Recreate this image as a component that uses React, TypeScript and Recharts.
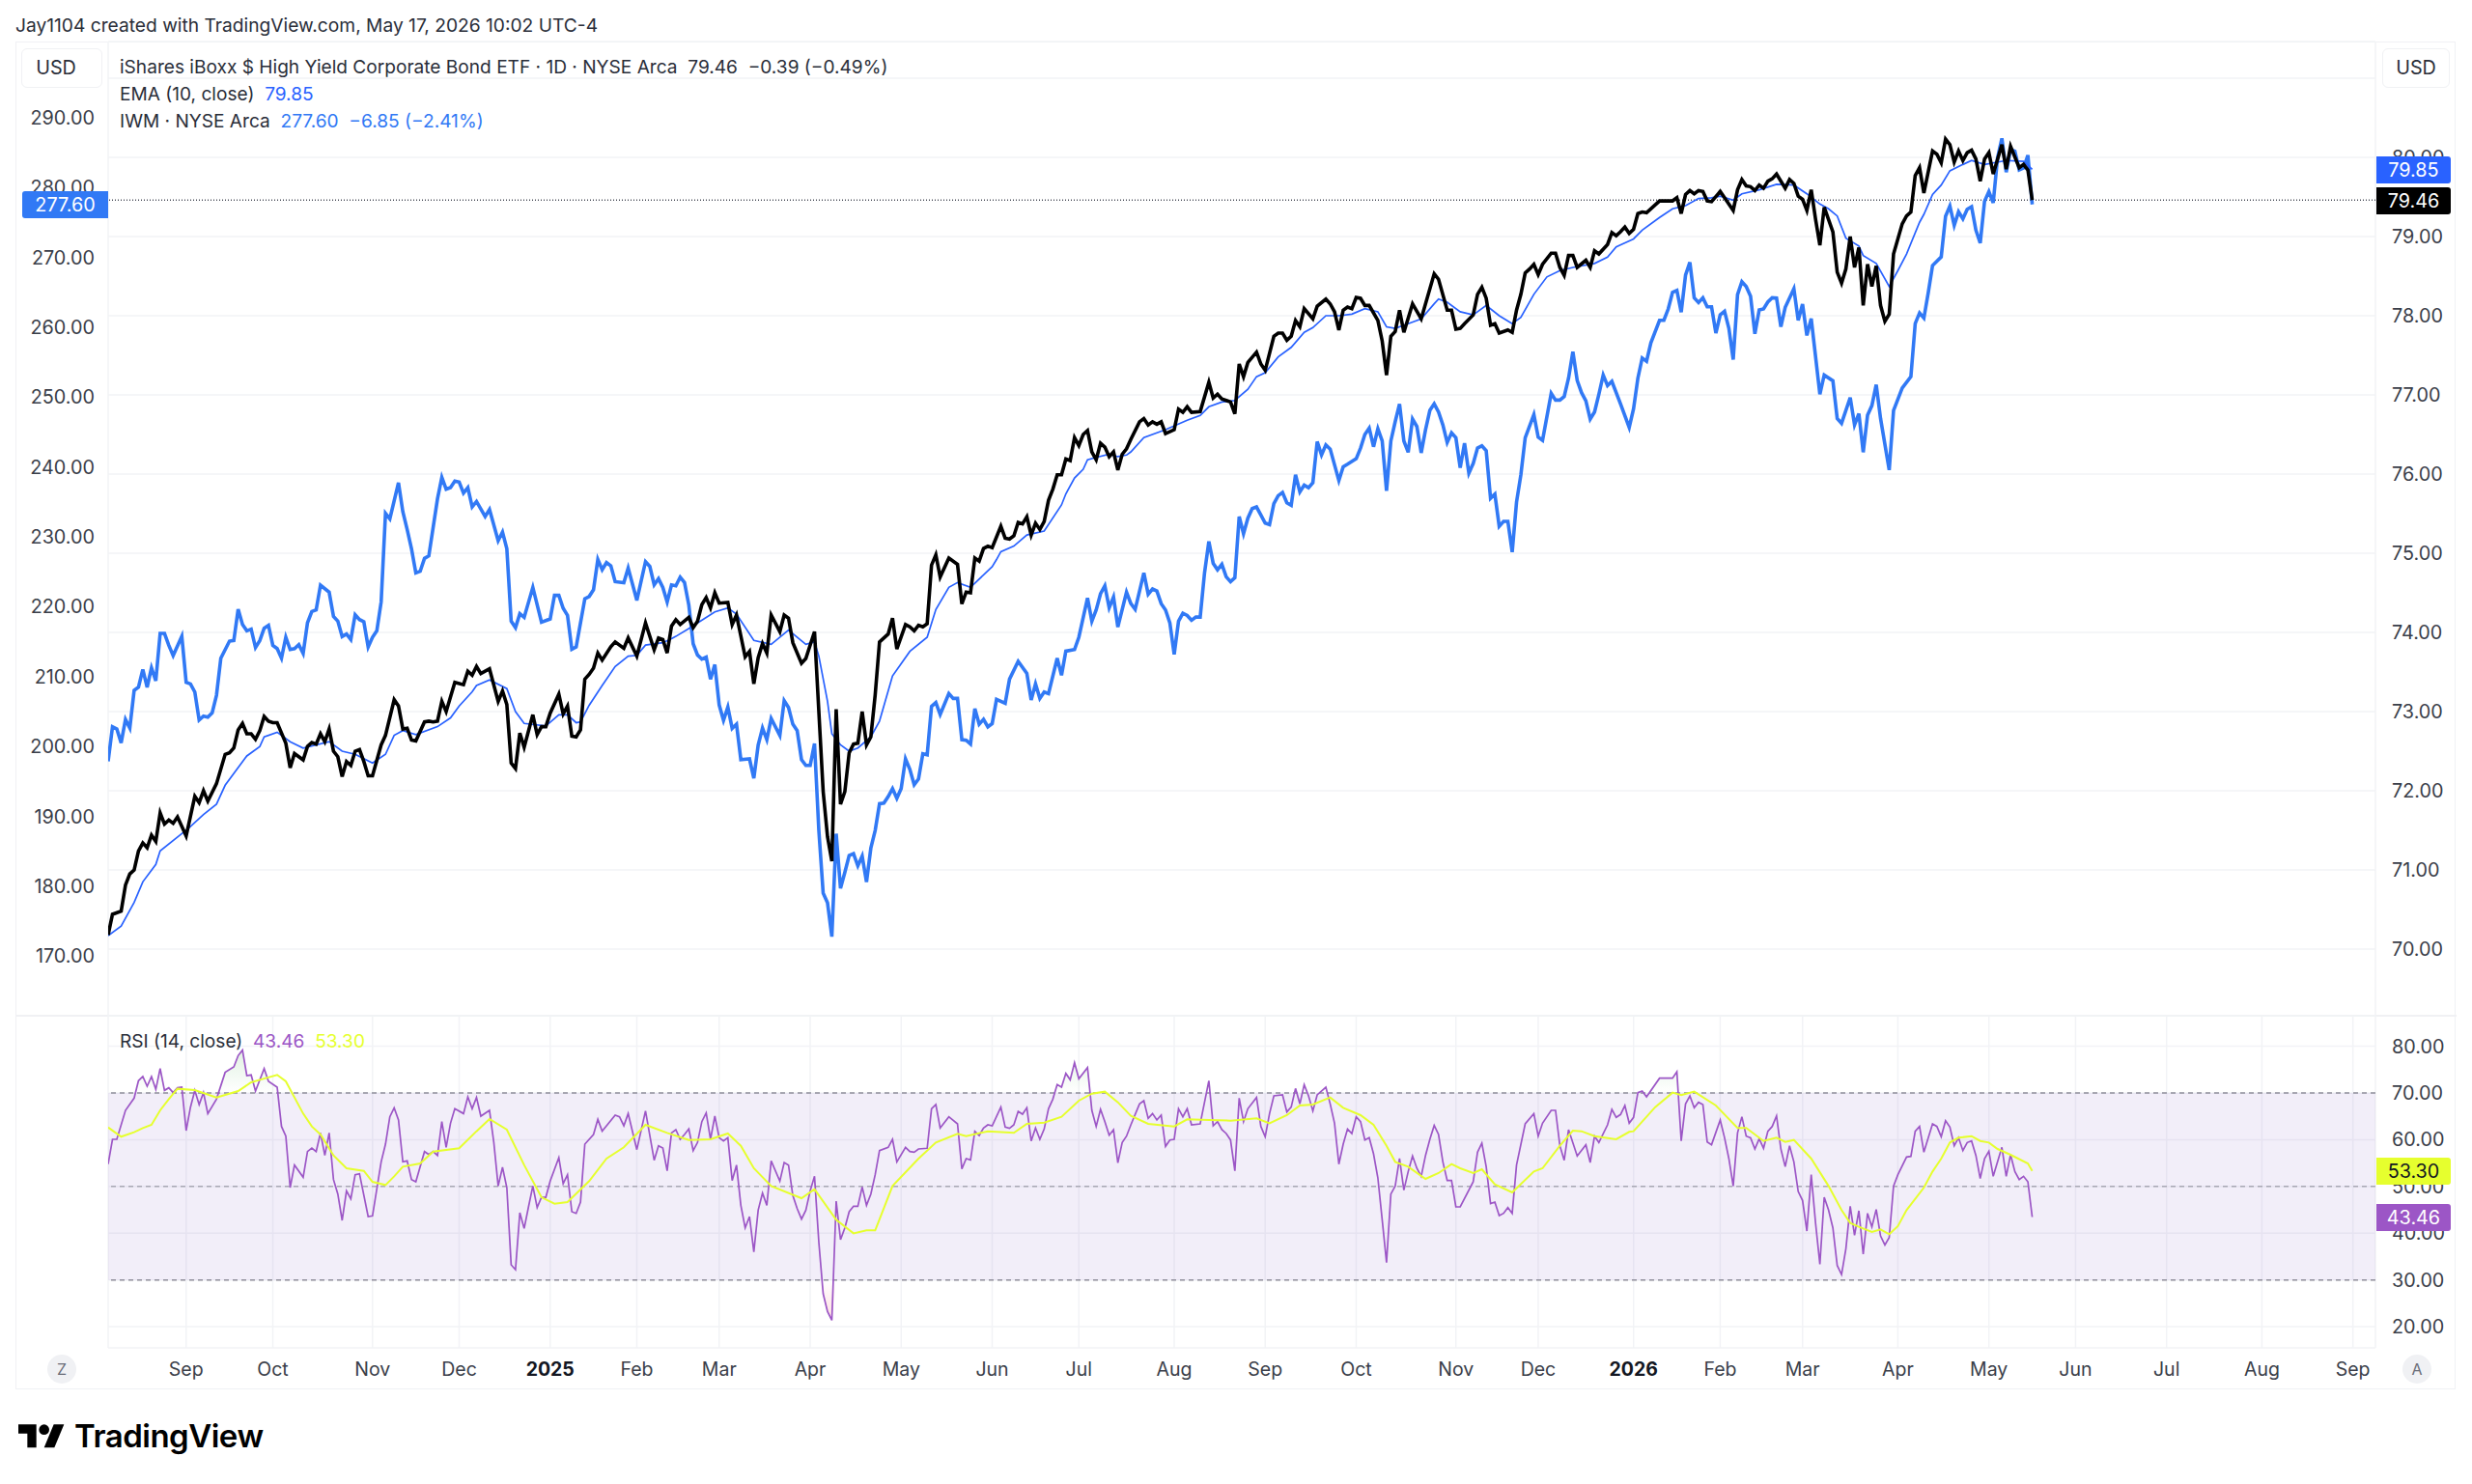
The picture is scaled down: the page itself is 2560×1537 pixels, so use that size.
import {
  Area,
  CartesianGrid,
  ComposedChart,
  Line,
  LineChart,
  ReferenceArea,
  ReferenceLine,
  XAxis,
  YAxis,
} from "recharts";

// [trading-day number, value], day 0 is the first bar on screen
const hygClose = [
  [0,70.18],[1,70.44],[3,70.48],[4,70.81],[5,70.95],[6,71.00],[7,71.24],[8,71.34],[9,71.28],[10,71.44],[11,71.36],[12,71.72],[13,71.58],[14,71.63],[15,71.59],[16,71.67],[18,71.43],[20,71.93],[21,71.85],[22,72.00],[23,71.87],[25,72.09],[27,72.46],[28,72.48],[29,72.54],[30,72.77],[31,72.85],[32,72.72],[33,72.72],[34,72.65],[35,72.76],[36,72.94],[37,72.88],[38,72.86],[39,72.86],[41,72.60],[42,72.29],[43,72.47],[45,72.39],[46,72.56],[47,72.61],[48,72.59],[49,72.72],[50,72.62],[51,72.78],[52,72.50],[53,72.43],[54,72.18],[55,72.37],[56,72.32],[57,72.50],[58,72.52],[59,72.37],[60,72.19],[61,72.19],[63,72.58],[64,72.70],[66,73.15],[67,73.07],[68,72.78],[69,72.79],[70,72.64],[71,72.63],[73,72.87],[74,72.88],[75,72.87],[76,72.88],[77,73.13],[78,73.00],[80,73.37],[82,73.34],[83,73.51],[84,73.46],[85,73.57],[86,73.48],[88,73.54],[90,73.13],[91,73.26],[92,73.09],[93,72.35],[94,72.28],[95,72.73],[96,72.55],[98,72.96],[99,72.71],[100,72.81],[101,72.81],[102,72.98],[104,73.22],[105,72.97],[106,73.07],[107,72.69],[108,72.68],[109,72.77],
  [110,73.41],[111,73.47],[112,73.55],[113,73.74],[114,73.65],[116,73.82],[117,73.88],[119,73.80],[120,73.93],[122,73.70],[124,74.12],[126,73.78],[127,73.93],[128,73.91],[129,73.74],[130,74.08],[131,74.16],[132,74.10],[134,74.19],[135,74.06],[136,74.14],
  [137,74.35],[138,74.44],[139,74.31],[140,74.50],[141,74.37],[143,74.38],[144,74.10],[145,74.22],[147,73.69],[148,73.76],[149,73.35],[150,73.68],[151,73.86],[152,73.74],[153,74.22],[155,74.01],[156,74.22],[157,74.18],[158,73.87],[160,73.61],[161,73.67],[163,74.01],[165,71.99],[166,71.42],[167,71.11],[168,73.03],[169,71.83],[170,71.99],[171,72.48],[172,72.59],[173,72.60],[174,73.00],[175,72.58],[176,72.68],[177,73.21],[178,73.88],[180,73.98],[181,74.18],[182,73.79],[184,74.10],[185,74.07],[186,74.02],[187,74.09],[188,74.07],[189,74.11],[190,74.85],[191,74.98],[192,74.70],[194,74.94],[196,74.86],[197,74.36],[198,74.51],[199,74.50],[200,74.94],[201,74.90],
  [202,75.06],[203,75.09],[204,75.07],[206,75.34],[207,75.19],[208,75.18],[209,75.22],[210,75.39],[211,75.37],[212,75.46],[213,75.23],[214,75.38],[215,75.30],[216,75.40],[217,75.67],[218,75.81],[219,75.99],[220,75.99],[221,76.19],[222,76.17],[223,76.46],[224,76.36],[225,76.50],[226,76.55],[227,76.28],[228,76.18],[229,76.39],[230,76.34],[231,76.22],[232,76.28],[233,76.05],[234,76.25],[235,76.32],
  [236,76.44],[238,76.66],[239,76.70],[240,76.62],[241,76.66],[242,76.63],[243,76.66],[244,76.51],[246,76.56],[247,76.82],[248,76.78],[249,76.85],[250,76.78],[252,76.79],[254,77.16],[255,76.96],[256,77.01],[257,76.95],[259,76.91],[260,76.76],[261,77.39],[262,77.23],[263,77.41],[265,77.54],[266,77.39],[267,77.31],[269,77.74],[270,77.78],[271,77.78],[272,77.69],[273,77.74],[274,77.94],[275,77.86],[276,78.09],[278,77.96],[279,78.12],[281,78.21],[282,78.15],[283,78.05],[284,77.82],[285,78.07],[286,78.11],[287,78.09],[288,78.23],[289,78.22],[290,78.13],[291,78.13],[293,77.94],[294,77.68],[295,77.25],[296,77.74],[297,77.80],[298,78.07],[299,77.79],[301,78.15],[303,77.96],[306,78.53],[307,78.46],[309,78.07],[310,78.07],[311,77.83],[312,77.84],[313,77.90],[315,78.01],[316,78.27],[317,78.36],[318,78.22],[319,77.88],[320,77.90],[321,77.78],[323,77.82],[324,77.79],[325,78.07],[326,78.27],[327,78.54],[328,78.59],[329,78.65],[330,78.52],[331,78.65],[333,78.79],[334,78.79],[335,78.61],[336,78.51],[337,78.76],[338,78.76],[339,78.61],[341,78.70],[342,78.61],
  [343,78.82],[344,78.78],[346,78.90],[347,79.05],[348,79.01],[349,79.06],[350,79.12],[351,79.04],[352,79.09],[353,79.29],[354,79.31],[355,79.30],[358,79.45],[361,79.45],[362,79.49],[363,79.29],[364,79.53],[365,79.58],[366,79.54],[367,79.58],[368,79.57],[369,79.45],[370,79.44],[372,79.57],[373,79.49],[375,79.33],[376,79.59],[377,79.72],[378,79.64],[379,79.63],[380,79.58],[381,79.65],[382,79.61],[383,79.70],[384,79.73],[385,79.79],[387,79.61],[388,79.72],[389,79.67],[390,79.51],[391,79.47],[392,79.33],[393,79.59],[394,79.22],[395,78.89],[396,79.37],[398,79.06],[399,78.55],[400,78.41],[401,78.59],[402,79.00],[403,78.61],[404,78.86],[405,78.13],
  [406,78.65],[407,78.37],[408,78.63],[409,78.13],[410,77.93],[411,78.02],[412,78.78],[414,79.16],[415,79.26],[416,79.31],[417,79.77],[418,79.87],[419,79.55],[421,80.08],[422,80.04],[423,79.93],[424,80.23],[425,80.16],[426,79.94],[427,80.08],[428,79.96],[429,80.06],[430,80.09],[431,79.98],[432,79.70],[433,79.98],[434,80.06],[435,79.79],[437,80.16],[438,79.85],[439,80.14],[441,79.87],[442,79.91],[443,79.84],[444,79.46],
];

const emaClose = [
  [0,70.17],[3,70.29],[6,70.59],[8,70.85],[11,71.07],[12,71.24],[17,71.46],[18,71.50],[22,71.70],[25,71.83],[27,72.07],[32,72.44],[35,72.56],[36,72.68],[39,72.74],[42,72.62],[45,72.54],[51,72.62],[54,72.50],[57,72.46],[61,72.35],[64,72.46],[66,72.70],[68,72.76],[71,72.71],[76,72.81],[79,72.92],[81,73.07],[84,73.25],[85,73.33],[88,73.40],[92,73.29],[94,73.00],[96,72.85],[101,72.82],[104,72.96],[106,72.96],[108,72.86],
  [109,72.87],[111,73.08],[114,73.33],[117,73.57],[120,73.70],[122,73.71],[124,73.84],[128,73.87],[130,73.92],
  [131,73.95],[134,74.05],[140,74.26],[143,74.31],[145,74.23],[149,73.90],[153,73.85],[157,74.03],[161,73.85],[163,73.88],[164,73.70],[166,73.13],[167,72.72],[169,72.58],[171,72.50],[173,72.54],[176,72.68],[178,72.88],[181,73.45],[185,73.76],[189,73.94],[191,74.29],[194,74.57],[196,74.63],[199,74.57],[204,74.83],
  [205,74.92],[206,75.02],[209,75.09],[212,75.23],[216,75.28],[220,75.61],[221,75.75],[223,75.95],[225,76.06],[226,76.18],[228,76.21],[231,76.25],[233,76.22],[235,76.24],
  [236,76.28],[239,76.46],[244,76.56],[249,76.68],[252,76.74],[254,76.85],[257,76.91],[260,76.93],[263,77.07],[265,77.23],[267,77.28],[270,77.48],[273,77.60],[276,77.79],[278,77.85],[281,78.00],[284,78.00],[287,78.02],[290,78.09],[293,78.05],[295,77.86],[297,77.84],[300,77.90],[303,77.96],[306,78.15],[307,78.21],[309,78.17],[312,78.05],[315,78.01],[318,78.13],[321,78.00],[324,77.90],[326,77.98],[329,78.27],[332,78.49],[335,78.57],[338,78.61],
  [343,78.66],[346,78.74],[348,78.87],[352,78.97],[354,79.08],[358,79.24],[361,79.35],[364,79.39],[367,79.48],[370,79.49],[372,79.51],[375,79.46],[377,79.54],[381,79.59],[385,79.66],[389,79.65],[392,79.54],[395,79.41],[397,79.35],
  [399,79.26],[401,78.98],[404,78.88],[405,78.76],[408,78.66],[411,78.37],[413,78.57],[415,78.78],[418,79.18],[419,79.28],[421,79.53],[423,79.65],[425,79.83],[428,79.91],[430,79.96],[433,79.91],[438,79.96],[442,79.95],[444,79.85],
];

const iwmClose = [
  [0,197.89],[1,202.82],[2,202.50],[3,200.52],[4,203.88],[5,202.64],[6,208.03],[7,208.49],[8,211.03],[9,208.49],[10,211.26],[11,209.41],[12,216.19],[13,216.19],[14,214.48],[15,213.01],[17,215.77],[18,209.18],[19,208.95],[20,207.80],[21,203.79],[22,204.34],[23,204.21],[24,204.81],[25,207.34],[26,212.64],[28,215.08],[29,215.17],[30,219.64],[31,217.48],[32,216.56],[33,216.79],[34,214.16],[35,215.17],[36,216.93],[37,217.34],[38,214.48],[39,214.02],[40,212.64],[41,215.64],[42,213.88],[43,214.02],[44,214.58],[45,213.33],[46,217.71],[47,219.32],[48,219.55],[49,223.10],[51,222.09],[52,218.63],[53,217.94],[54,215.73],[55,216.10],[56,215.31],[57,218.86],[58,218.17],[59,217.85],[60,214.25],[61,215.64],[62,216.56],[63,220.70],[64,233.38],[65,232.59],[67,237.76],[68,233.61],[69,231.07],[70,228.31],[71,224.85],[72,225.08],[73,226.93],[74,227.29],[76,235.45],[77,238.54],[78,236.83],[79,237.06],[80,237.99],[81,237.85],[82,236.28],[83,237.06],[84,234.30],[85,235.08],[87,232.92],[88,233.93],[90,229.46],[91,230.70],[92,228.31],[93,217.94],[94,217.02],[95,219.00],[96,218.49],[98,222.78],[100,217.80],[102,218.26],[103,221.63],[104,221.63],[105,219.78],[106,218.77],[107,213.93],[108,214.25],
  [110,221.16],[111,221.48],[112,222.45],[113,226.78],[114,225.31],[115,226.32],[116,225.86],[117,223.60],[119,223.46],[120,225.54],[122,220.93],[124,226.46],[125,225.77],[126,223.14],[127,224.02],[128,222.77],[129,220.70],[130,223.14],
  [131,223.01],[132,224.25],[133,223.47],[134,220.24],[135,214.71],[136,213.10],[137,212.50],[138,212.78],[139,209.64],[140,211.72],[141,205.96],[142,203.75],[143,205.64],[144,202.59],[145,203.19],[146,198.12],[148,198.22],[149,195.45],[150,200.20],[151,202.64],[152,200.98],[153,204.02],[155,201.58],[156,206.56],[157,205.59],[158,203.19],[159,202.27],[160,198.12],[161,197.29],[162,197.29],[163,200.43],[164,187.99],[165,179.00],[166,177.62],[167,172.78],[168,187.52],[169,179.69],[170,181.99],[171,184.39],[172,184.67],[173,182.92],[174,184.30],[175,180.61],[176,185.45],[177,187.99],[178,191.81],[179,191.90],[180,192.82],[181,193.98],[182,192.59],[183,193.98],[184,198.22],[185,196.74],[186,194.53],[187,195.36],[188,198.95],[189,198.81],[190,205.73],[191,206.28],[192,204.58],[194,207.57],[195,206.88],[196,206.88],[197,200.98],[198,200.89],[199,200.34],[200,205.40],[201,203.19],[202,203.88],[203,202.82],[204,203.28],[205,206.74],[207,206.19],[208,209.64],[210,212.18],[212,210.47],[213,206.65],[214,208.95],[215,206.88],[216,207.80],[217,207.57],[219,212.64],[220,210.20],[221,213.65],[223,213.88],[224,215.64],[226,221.26],[227,217.94],[228,219.55],[229,221.86],[230,223.01],[231,219.87],[232,221.40],[233,217.11],[235,222.09],[236,220.47],[237,219.64],[239,224.85],[240,221.80],[241,222.54],[242,222.25],
  [243,220.46],[244,219.54],[245,217.70],[246,213.18],[247,217.93],[248,219.08],[249,218.76],[250,218.07],[251,218.53],[252,218.53],[253,224.84],[254,229.36],[255,226.22],[256,225.30],[257,226.09],[258,224.29],[259,223.60],[260,224.15],[261,232.91],[262,230.46],[263,232.68],[264,234.06],[265,234.29],[266,233.14],[267,231.98],[268,231.75],[269,234.75],[270,235.90],[271,236.36],[272,234.89],[273,234.52],[274,238.90],[275,236.45],[276,237.42],[277,237.05],[278,237.75],[279,243.64],[280,241.75],[281,243.18],[282,242.58],[284,238.07],[285,240.05],[286,240.42],[288,241.20],[289,242.72],[290,244.66],[291,245.58],[292,242.91],[293,245.49],[294,243.74],[295,236.59],[296,243.74],[297,246.50],[298,249.04],[299,243.74],[300,242.12],[301,246.87],[302,245.81],[303,242.03],[304,245.35],[305,248.11],[306,249.04],[307,247.88],[308,246.04],[309,243.51],[310,244.89],[311,244.20],[312,239.91],[313,243.41],[314,239.13],[315,240.51],[316,242.72],[317,243.04],[318,242.35],[319,235.53],[320,236.13],[321,231.52],[322,232.22],[323,232.22],[324,227.84],[325,234.98],[326,238.90],[327,244.20],[329,247.51],[330,244.29],[331,243.83],[333,250.56],[334,249.59],[335,249.59],[336,250.10],[337,252.72],[338,256.50],[339,252.40],[340,250.65],[341,249.50],[342,246.87],
  [343,247.88],[344,250.42],[345,253.18],[346,251.66],[347,252.26],[349,249.03],[351,245.67],[352,248.34],[353,252.72],[354,255.62],[355,255.16],[356,257.79],[358,261.01],[359,261.01],[360,262.63],[361,265.02],[362,265.30],[363,262.17],[364,267.47],[365,269.31],[366,264.24],[367,263.55],[368,264.24],[369,262.95],[370,262.95],[371,259.17],[372,261.80],[373,262.31],[374,259.86],[375,255.39],[376,264.70],[377,266.54],[378,265.85],[379,264.47],[380,259.08],[381,262.49],[382,262.63],[383,263.64],[384,264.24],[385,264.20],[386,260.09],[387,262.86],[389,265.53],[390,261.01],[391,263.32],[392,258.85],[393,261.25],[395,250.42],[396,253.18],[398,252.35],[399,246.96],[400,246.27],[402,249.95],[403,246.04],[404,247.65],
  [405,242.12],[406,247.42],[407,248.80],[408,251.80],[409,246.96],[411,239.58],[412,248.11],[414,251.33],[416,252.95],[417,260.55],[418,262.07],[419,261.33],[420,264.93],[421,268.85],[423,270.09],[424,275.90],[425,277.37],[426,274.61],[427,276.54],[428,275.53],[429,276.91],[430,277.28],[431,273.92],[432,272.07],[433,278.06],[434,279.45],[435,277.83],[436,284.28],[437,287.05],[438,282.21],[439,285.44],[440,285.21],[441,282.53],[442,282.81],[443,284.65],[444,277.60],
];

const rsiValues = [
  [0,54.78],[1,60.09],[2,60.09],[4,66.28],[6,68.90],[7,72.62],[8,73.51],[9,71.45],[10,73.51],[11,70.76],[12,75.23],[13,70.55],[14,71.10],[15,70.07],[16,71.10],[17,71.24],[18,61.94],[19,66.97],[20,70.55],[21,67.52],[22,70.07],[23,65.59],[25,68.69],[27,74.41],[29,75.58],[30,77.99],[31,79.16],[32,73.72],[33,73.86],[34,70.41],[36,75.23],[37,72.48],[39,71.24],[40,62.84],[41,60.77],[42,49.76],[43,54.58],[45,51.96],[46,57.47],[47,58.23],[48,57.47],[49,61.46],[50,56.64],[51,61.46],[52,51.48],[53,48.38],[54,42.74],[55,49.07],[56,47.35],[57,52.51],[58,52.72],[60,43.56],[61,43.70],[63,55.27],[64,59.05],[65,64.91],[66,66.83],[67,64.22],[68,55.27],[69,55.47],[70,51.48],[71,51.00],[73,57.47],[74,56.85],[75,57.47],[76,56.64],[77,63.87],[78,58.37],[79,63.53],[80,66.63],[82,65.59],[83,69.17],[84,66.63],[85,69.04],[86,65.04],[88,66.28],[89,59.40],[90,50.10],[91,54.10],[92,49.76],[93,33.24],[94,32.20],[95,44.39],[96,41.01],[97,45.63],[98,50.10],[99,45.49],[100,47.69],[101,47.69],[102,51.14],[104,56.16],[105,50.59],[106,52.51],[107,44.60],[108,44.25],[109,46.66],[110,59.05],[112,61.12],[113,64.35],[114,61.81],[117,65.25],[118,64.91],[119,62.98],[120,65.59],[122,57.88],[124,66.14],[126,55.61],[127,58.71],[128,58.23],[129,53.34],[130,61.46],[131,62.15],[132,60.09],[133,61.12],[134,62.29],[135,57.68],[136,59.40],[137,63.87],[138,65.73],[139,60.09],[140,65.04],[141,60.43],[142,59.74],[143,60.43],[144,51.27],[145,54.58],[146,45.97],[147,41.15],[148,43.56],[149,35.99],[150,44.94],[151,48.59],[152,45.97],[153,55.47],[155,51.14],[156,55.13],[157,54.58],[158,48.04],[159,45.28],[160,43.01],[161,44.94],[162,49.07],[163,52.17],[164,38.05],[165,27.04],[166,23.25],[167,21.39],[168,46.87],[169,38.61],[170,41.15],[171,44.60],[172,45.77],[173,45.77],[174,49.90],[175,45.97],[176,48.38],[177,52.51],[178,57.68],[180,58.37],[181,60.09],[182,55.27],[184,58.37],[185,57.47],[186,57.33],[187,58.02],[189,58.16],[190,66.63],[191,67.52],[192,62.50],[194,64.91],[196,63.39],[197,53.75],[198,55.96],
  [199,55.68],[200,61.81],[201,60.91],[202,62.50],[203,63.18],[204,62.98],[206,66.97],[207,62.70],[208,62.43],[209,63.18],[210,66.08],[211,65.46],[212,66.83],[213,59.74],[214,62.50],[215,60.09],[216,62.29],[217,66.63],[218,68.69],[219,71.79],[220,71.24],[221,74.20],[222,72.82],[223,76.47],[224,73.03],[226,75.44],[227,66.28],[228,62.84],[229,66.49],[230,63.87],[231,60.98],[232,62.15],[233,55.06],[234,59.40],[235,60.77],[236,63.18],[238,67.66],[239,68.35],[240,64.56],[241,65.59],[242,64.22],[243,65.25],[244,58.57],[245,59.95],[246,60.09],[247,66.63],[248,64.91],[249,66.63],[250,63.18],[252,63.39],[254,72.62],[255,62.98],[256,63.87],[257,62.15],[258,61.33],[259,59.95],[260,53.34],[261,68.90],[262,63.87],[263,66.63],[265,69.04],[266,62.84],[267,60.64],[268,65.59],[269,69.38],[271,69.59],[272,65.94],[273,66.97],[274,70.96],[275,67.66],[276,71.79],[277,69.38],[278,66.14],[279,69.59],[281,71.24],[282,67.66],[283,63.53],[284,54.78],[285,59.05],[286,62.29],[287,61.33],[288,64.91],[289,63.87],[290,59.95],[291,60.43],[292,56.99],[293,51.82],[294,42.87],[295,33.72],[296,48.38],[297,50.10],[298,55.96],[299,49.21],[300,53.20],[301,56.51],[302,53.89],[303,52.17],[304,56.64],[305,60.09],[306,63.05],[307,61.12],[308,55.27],[309,51.27],[310,51.27],[311,45.63],[312,45.63],[315,51.00],[316,57.33],[317,59.26],[318,54.23],[319,46.32],[320,46.66],[321,43.77],[322,44.25],[323,45.49],[324,44.25],[325,54.58],[327,63.39],[329,65.59],[330,60.77],[331,63.53],[333,66.28],[334,66.28],[335,58.71],[336,55.61],[337,62.15],[339,56.51],[341,58.92],[342,55.13],[343,60.77],[344,59.40],[346,63.18],[347,66.49],[348,64.77],[349,65.39],[350,67.31],[351,63.53],[352,64.77],[353,70.07],[354,70.41],[355,69.17],[358,73.17],[361,73.17],[362,74.54],[363,59.74],[364,67.66],[365,69.38],[366,66.83],[367,68.00],[368,67.52],[369,59.53],[370,58.92],[372,64.22],[373,60.43],[374,55.96],[375,50.10],[376,61.46],[377,64.91],[378,60.77],[379,60.43],[380,58.02],[381,60.22],[382,58.16],[383,61.81],[384,62.84],[385,65.11],[386,58.02],[387,54.23],[388,58.71],[389,55.27],[390,48.93],[391,47.00],[392,40.46],[393,52.51],[394,42.19],[395,33.37],[396,47.69],[397,44.94],[398,41.15],[399,33.10],[400,31.17],[401,36.68],[402,45.77],[403,39.57],[404,44.80],[405,35.51],[406,44.25],[407,41.36],[408,45.08],[409,39.43],[410,37.50],[411,39.09],[412,50.10],[413,52.51],[415,56.30],[416,56.44],
  [417,61.81],[418,62.84],[419,57.33],[421,63.39],[422,62.84],[423,60.64],[424,64.08],[425,62.70],[426,58.71],[427,60.43],[428,57.68],[429,59.40],[430,59.74],[431,56.64],[432,51.69],[433,55.96],[434,57.54],[435,52.17],[437,58.37],[438,52.17],[439,56.78],[440,53.20],[441,51.48],[442,52.17],[443,51.00],[444,43.46],
];

const rsiAverage = [
  [0,62.63],[3,60.64],[6,61.60],[8,62.50],[10,63.18],[12,66.28],[14,68.69],[16,70.90],[20,70.62],[25,69.04],[30,70.41],[33,72.27],[35,72.82],[39,73.86],[41,72.48],[45,65.59],[47,62.84],[49,61.12],[52,56.64],[55,53.89],[59,53.34],[61,51.00],[64,50.31],[66,52.17],[68,54.23],[72,54.92],[75,57.47],[81,58.16],[85,61.81],[88,64.42],[92,62.15],[96,54.58],[100,47.69],[103,46.32],[106,46.66],[111,51.14],[115,55.96],[119,58.37],[124,63.18],[129,61.46],[134,59.95],[139,60.09],[143,61.33],[146,58.71],[149,53.89],[153,50.10],[160,47.49],[163,49.41],[168,42.87],[172,39.98],[175,40.60],[177,40.60],[181,50.10],[187,55.96],[191,59.40],[196,61.26],[198,60.77],
  [203,61.81],[209,61.46],[212,63.39],[216,63.67],[220,64.91],[224,68.35],[227,69.86],[230,70.28],[233,68.00],[236,65.11],[240,63.39],[246,62.84],[249,64.35],[254,64.22],[259,64.08],[265,64.56],[268,63.53],[272,65.25],[275,67.31],[278,67.52],[282,69.04],[285,66.83],[289,65.25],[292,63.18],[295,58.71],[297,55.27],[300,54.23],[304,51.62],[307,52.86],[310,54.78],[312,53.89],[315,52.86],[317,53.68],[320,50.45],[324,48.73],[329,53.20],[331,53.89],[335,58.71],[338,61.94],[340,61.81],[343,60.77],[348,60.09],[351,61.67],[352,61.81],[357,66.97],[361,70.07],[363,69.52],[366,70.28],[371,67.31],[376,62.50],[378,62.50],[382,59.74],[385,60.43],[387,59.53],[389,59.95],[393,55.96],[397,50.10],
  [400,44.94],[402,42.19],[404,41.36],[407,40.26],[409,40.81],[411,39.78],[413,41.50],[415,44.94],[419,49.76],[421,53.20],[423,55.96],[425,59.40],[427,60.43],[430,60.77],[432,59.74],[434,59.40],[436,58.02],[439,56.78],[443,54.92],[444,53.30],
];

const monthBars = [18, 38, 61, 81, 102, 122, 141, 162, 183, 204, 224, 246, 267, 288, 311, 330, 352, 372, 391, 413, 434, 454, 475, 497, 518];
const monthLabels = ["Sep", "Oct", "Nov", "Dec", "2025", "Feb", "Mar", "Apr", "May", "Jun", "Jul", "Aug", "Sep", "Oct", "Nov", "Dec", "2026", "Feb", "Mar", "Apr", "May", "Jun", "Jul", "Aug", "Sep"];

const iwmTicks = [170, 180, 190, 200, 210, 220, 230, 240, 250, 260, 270, 280, 290];
const hygTicks = [70, 71, 72, 73, 74, 75, 76, 77, 78, 79, 80, 81];
const rsiTicks = [20, 30, 40, 50, 60, 70, 80];

const FONT = "Inter, 'Liberation Sans', sans-serif";
const GRID = "#f2f3f6";
const TEXT = "#2a2e39";
const BAR_MAX = 523.2;

const rows = (pts: number[][]) => pts.map(([bar, v]) => ({ bar, v }));
const rsiHigh = rsiValues.map(([bar, v]) => ({ bar, hi: Math.max(v, 70) }));
const rsiLow = rsiValues.map(([bar, v]) => ({ bar, lo: Math.min(v, 30) }));

const axisText = { fontSize: 19.8, fill: "#3a3e49", fontFamily: FONT };

function MonthTick({ x, y, payload }: any) {
  const label = monthLabels[monthBars.indexOf(payload.value)];
  const bold = label === "2025" || label === "2026";
  return (
    <text x={x} y={y + 14} textAnchor="middle" dominantBaseline="central" fontSize={19.5} fontFamily={FONT} fontWeight={bold ? 700 : 400} fill={bold ? "#131722" : "#3a3e49"}>
      {label}
    </text>
  );
}

function Tag({ top, bg, color, text }: { top: number; bg: string; color: string; text: string }) {
  return (
    <div style={{ position: "absolute", left: 2461, top, width: 77, height: 28, background: bg, color, fontSize: 19.8, lineHeight: "28px", textAlign: "center", borderRadius: "0 3px 3px 0" }}>
      {text}
    </div>
  );
}

function Legend({ top, children }: { top: number; children: any }) {
  return <div style={{ position: "absolute", left: 124, top, fontSize: 19.1, lineHeight: "24px", color: TEXT, whiteSpace: "pre" }}>{children}</div>;
}

function Round({ left, text }: { left: number; text: string }) {
  return (
    <div style={{ position: "absolute", left, top: 1403, width: 30, height: 30, borderRadius: 15, background: "#f0f1f4", color: "#6a6d78", fontSize: 16, lineHeight: "30px", textAlign: "center" }}>
      {text}
    </div>
  );
}

export default function App() {
  return (
    <div style={{ position: "absolute", left: 0, top: 0, width: 2560, height: 1537, background: "#fff", fontFamily: FONT, overflow: "hidden" }}>
      <div style={{ position: "absolute", left: 16, top: 14, fontSize: 19.2, lineHeight: "24px", color: TEXT }}>
        Jay1104 created with TradingView.com, May 17, 2026 10:02 UTC-4
      </div>
      <div style={{ position: "absolute", left: 16, top: 43, width: 2527, height: 1396, border: "1.5px solid #f0f1f4", boxSizing: "border-box" }} />
      <div style={{ position: "absolute", left: 16, top: 1051, width: 2528, height: 2, background: "#f0f1f4" }} />

      <div style={{ position: "absolute", left: 0, top: 0 }}>
        <LineChart width={2560} height={1052} margin={{ top: 43, right: 16, bottom: 0, left: 16 }}>
          <CartesianGrid stroke={GRID} strokeWidth={1.5} yAxisId="hyg" ticks={monthBars} />
          <XAxis type="number" dataKey="bar" domain={[0, BAR_MAX]} ticks={monthBars} interval={0} height={0} tick={false} axisLine={false} tickLine={false} allowDataOverflow />
          <YAxis yAxisId="iwm" orientation="left" width={96} domain={[161.46, 300.92]} ticks={iwmTicks} interval={0} allowDataOverflow axisLine={false} tickLine={false} tickMargin={8} tick={axisText} tickFormatter={(v: number) => v.toFixed(2)} />
          <YAxis yAxisId="hyg" orientation="right" width={84} domain={[69.159, 81.463]} ticks={hygTicks} interval={0} allowDataOverflow axisLine={false} tickLine={false} tickMargin={11} tick={axisText} tickFormatter={(v: number) => (v === 81 ? "" : v.toFixed(2))} />
          <ReferenceLine yAxisId="hyg" y={79.46} stroke="#4a4e59" strokeWidth={1.5} strokeDasharray="1 2" />
          <Line yAxisId="iwm" data={rows(iwmClose)} dataKey="v" type="linear" stroke="#3179f5" strokeWidth={3.6} dot={false} isAnimationActive={false} />
          <Line yAxisId="hyg" data={rows(emaClose)} dataKey="v" type="linear" stroke="#2962ff" strokeWidth={1.7} dot={false} isAnimationActive={false} />
          <Line yAxisId="hyg" data={rows(hygClose)} dataKey="v" type="linear" stroke="#000000" strokeWidth={3.6} dot={false} isAnimationActive={false} />
        </LineChart>
      </div>

      <div style={{ position: "absolute", left: 0, top: 1052 }}>
        <ComposedChart width={2560} height={388} margin={{ top: 0, right: 16, bottom: 0, left: 112 }}>
          <defs>
            <linearGradient id="rsiUp" x1="0" y1="0" x2="0" y2="1">
              <stop offset="0%" stopColor="#4caf50" stopOpacity={0.28} />
              <stop offset="100%" stopColor="#4caf50" stopOpacity={0} />
            </linearGradient>
            <linearGradient id="rsiDown" x1="0" y1="0" x2="0" y2="1">
              <stop offset="0%" stopColor="#f23645" stopOpacity={0} />
              <stop offset="100%" stopColor="#f23645" stopOpacity={0.28} />
            </linearGradient>
          </defs>
          <CartesianGrid stroke={GRID} strokeWidth={1.5} />
          <XAxis type="number" dataKey="bar" domain={[0, BAR_MAX]} ticks={monthBars} interval={0} height={44} axisLine={false} tickLine={false} tick={<MonthTick />} allowDataOverflow />
          <YAxis orientation="right" width={84} domain={[15.48, 86.52]} ticks={rsiTicks} interval={0} allowDataOverflow axisLine={false} tickLine={false} tickMargin={11} tick={axisText} tickFormatter={(v: number) => v.toFixed(2)} />
          <ReferenceArea y1={30} y2={70} fill="#7e57c2" fillOpacity={0.1} stroke="none" />
          <ReferenceLine y={70} stroke="#8f8e9a" strokeWidth={1.5} strokeDasharray="5 4" />
          <ReferenceLine y={50} stroke="#a9a8b4" strokeWidth={1.5} strokeDasharray="5 4" />
          <ReferenceLine y={30} stroke="#8f8e9a" strokeWidth={1.5} strokeDasharray="5 4" />
          <Area data={rsiHigh} dataKey="hi" baseValue={70} type="linear" stroke="none" fill="url(#rsiUp)" dot={false} activeDot={false} isAnimationActive={false} />
          <Area data={rsiLow} dataKey="lo" baseValue={30} type="linear" stroke="none" fill="url(#rsiDown)" dot={false} activeDot={false} isAnimationActive={false} />
          <Line data={rows(rsiValues)} dataKey="v" type="linear" stroke="#9c56c6" strokeWidth={1.7} dot={false} isAnimationActive={false} />
          <Line data={rows(rsiAverage)} dataKey="v" type="linear" stroke="#e6ff2e" strokeWidth={2} dot={false} isAnimationActive={false} />
        </ComposedChart>
      </div>

      <div style={{ position: "absolute", left: 22, top: 50, width: 84, height: 41, border: "1.5px solid #f0f1f4", borderRadius: 6, boxSizing: "border-box", background: "#fff", fontSize: 19.8, lineHeight: "38px", textAlign: "center", color: TEXT, paddingRight: 12 }}>USD</div>
      <div style={{ position: "absolute", left: 2467, top: 50, width: 70, height: 41, border: "1.5px solid #f0f1f4", borderRadius: 6, boxSizing: "border-box", background: "#fff", fontSize: 19.8, lineHeight: "38px", textAlign: "center", color: TEXT }}>USD</div>

      <Legend top={57}>iShares iBoxx $ High Yield Corporate Bond ETF · 1D · NYSE Arca  79.46  −0.39 (−0.49%)</Legend>
      <Legend top={85}>EMA (10, close)  <span style={{ color: "#2962ff" }}>79.85</span></Legend>
      <Legend top={113}>IWM · NYSE Arca  <span style={{ color: "#3179f5" }}>277.60  −6.85 (−2.41%)</span></Legend>
      <Legend top={1066}>RSI (14, close)  <span style={{ color: "#9c56c6" }}>43.46</span>  <span style={{ color: "#e6ff2e" }}>53.30</span></Legend>

      <div style={{ position: "absolute", left: 23, top: 198, width: 89, height: 28, background: "#3179f5", color: "#fff", fontSize: 19.8, lineHeight: "28px", textAlign: "center", borderRadius: "3px 0 0 3px" }}>277.60</div>
      <Tag top={162} bg="#2962ff" color="#fff" text="79.85" />
      <Tag top={194} bg="#000000" color="#fff" text="79.46" />
      <Tag top={1199} bg="#e6ff2e" color="#131722" text="53.30" />
      <Tag top={1247} bg="#9c56c6" color="#fff" text="43.46" />

      <Round left={49} text="Z" />
      <Round left={2488} text="A" />

      <svg style={{ position: "absolute", left: 19, top: 1470 }} width={48} height={32} viewBox="0 0 36 24">
        <path d="M14 22H7V11H0V4h14v18zM28 22h-8l7.5-18h8L28 22z" fill="#000" />
        <circle cx="20" cy="8" r="4" fill="#000" />
      </svg>
      <div style={{ position: "absolute", left: 77, top: 1467, fontSize: 33, lineHeight: "40px", fontWeight: 600, color: "#000", letterSpacing: -0.5 }}>TradingView</div>
    </div>
  );
}
